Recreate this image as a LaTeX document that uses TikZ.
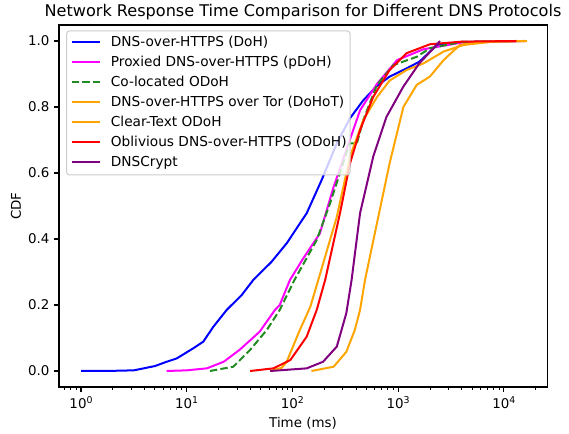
\documentclass[tikz,border=0pt]{standalone}
\usepackage{fontspec}
\setmainfont{DejaVu Sans}
\definecolor{cBlue}{RGB}{0,0,255}
\definecolor{cMag}{RGB}{255,0,255}
\definecolor{cGreen}{RGB}{34,139,34}
\definecolor{cOrange}{RGB}{255,165,0}
\definecolor{cRed}{RGB}{255,0,0}
\definecolor{cPurple}{RGB}{128,0,128}
\newcommand{\tenpow}[1]{10\raisebox{0.62ex}{\fontsize{9.4}{10}\selectfont #1}}
\begin{document}
\begin{tikzpicture}[x=1pt,y=1pt,
  curve/.style={line width=2pt, line join=round, line cap=butt},
  dashcurve/.style={curve, dash pattern=on 7.4pt off 3.2pt},
  axisline/.style={line width=1.07pt, black},
  tickline/.style={line width=1.07pt, black},
  minortick/.style={line width=0.8pt, black},
  lbl/.style={font=\fontsize{13.4}{16}\selectfont, inner sep=0pt},
  leglbl/.style={font=\fontsize{13.7}{16}\selectfont, inner sep=0pt},
  legbox/.style={draw=black!20, fill=white, fill opacity=0.8, rounded corners=2.7pt, line width=1pt}]
\useasboundingbox (0,0) rectangle (569,433);
\begin{scope}[shift={(81,62)}, x=105.7pt, y=330pt]
  % curves
  \draw[curve, cBlue] plot coordinates {(0,0) (0.3,0.0005) (0.5,0.002) (0.7,0.015) (0.81,0.028) (0.905,0.038) (1.063,0.069) (1.157,0.089) (1.252,0.134) (1.378,0.185) (1.52,0.23) (1.63,0.276) (1.8,0.33) (1.946,0.387) (2.135,0.478) (2.277,0.579) (2.42,0.69) (2.545,0.766) (2.67,0.82) (2.8,0.864) (2.92,0.892) (3.08,0.917) (3.2,0.937) (3.27,0.958) (3.365,0.988) (3.6,0.997) (4.12,1.0)};
  \draw[curve, cMag] plot coordinates {(0.81,0) (1.0,0.002) (1.19,0.008) (1.35,0.028) (1.5,0.064) (1.69,0.119) (1.835,0.185) (1.88,0.2) (1.977,0.276) (2.1,0.34) (2.26,0.417) (2.39,0.558) (2.5,0.66) (2.64,0.79) (2.8,0.87) (2.99,0.942) (3.24,0.975) (3.6,0.995) (4.2,1)};
  \draw[dashcurve, cGreen] plot coordinates {(1.22,0) (1.44,0.013) (1.6,0.064) (1.757,0.124) (1.88,0.185) (2.02,0.276) (2.23,0.397) (2.356,0.508) (2.45,0.6) (2.54,0.69) (2.61,0.69) (2.67,0.76) (2.8,0.867) (2.955,0.927) (3.176,0.952) (3.3,0.978) (3.6,0.997) (4.2,1)};
  \draw[curve, cOrange] plot coordinates {(1.79,0) (1.9,0.01) (1.946,0.028) (2.07,0.124) (2.17,0.195) (2.245,0.276) (2.42,0.467) (2.545,0.65) (2.67,0.76) (2.8,0.83) (2.92,0.88) (3.08,0.912) (3.24,0.932) (3.43,0.968) (3.62,0.988) (3.9,0.998) (4.2,1)};
  \draw[curve, cOrange] plot coordinates {(2.18,0) (2.39,0.013) (2.51,0.058) (2.59,0.124) (2.64,0.185) (2.687,0.276) (2.8,0.448) (2.92,0.63) (3.05,0.8) (3.176,0.867) (3.3,0.892) (3.43,0.942) (3.585,0.988) (3.8,0.998) (4.22,1)};
  \draw[curve, cRed] plot coordinates {(1.6,0) (1.82,0.008) (1.98,0.033) (2.135,0.104) (2.23,0.185) (2.31,0.276) (2.45,0.478) (2.545,0.629) (2.64,0.73) (2.765,0.831) (2.92,0.912) (3.08,0.963) (3.3,0.99) (3.6,0.998) (4.12,1)};
  \draw[curve, cPurple] plot coordinates {(1.79,0) (2.135,0.008) (2.29,0.028) (2.42,0.074) (2.51,0.175) (2.56,0.276) (2.64,0.478) (2.765,0.65) (2.89,0.77) (3.05,0.862) (3.2,0.932) (3.35,0.983) (3.396,1.0)};
  % axes frame
  \draw[axisline] (-0.208,-0.0485) rectangle (4.409,1.0485);
  % y ticks
  \foreach \v/\t in {0/0.0,0.2/0.2,0.4/0.4,0.6/0.6,0.8/0.8,1/1.0}{
    \draw[tickline] (-0.208,\v) -- ++(-4.8pt,0);
    \node[lbl, anchor=east] (yt\t) at ([xshift=-9.4pt]-0.208,\v) {\t};
  }
  % x major ticks
  \foreach \d in {0,...,4}{
    \draw[tickline] (\d,-0.0485) -- ++(0,-4.8pt);
    \node[lbl, anchor=base] (xt\d) at ([yshift=-37.3pt]\d,0) {\tenpow{\d}};
  }
  % x minor ticks
  \foreach \d in {-1,...,4}{
    \foreach \k in {2,...,9}{
      \pgfmathsetmacro\lx{\d+log10(\k)}
      \ifdim\lx pt>-0.208pt \ifdim\lx pt<4.409pt
        \draw[minortick] (\lx,-0.0485) -- ++(0,-2.7pt);
      \fi\fi
    }
  }
\end{scope}
% labels
\node[anchor=base, inner sep=0pt, font=\fontsize{16.1}{19}\selectfont] (title) at (303,416.3) {Network Response Time Comparison for Different DNS Protocols};
\node[lbl, anchor=base] (xlab) at (303,6) {Time (ms)};
\node[lbl, rotate=90, anchor=center] (ylab) at (16,227) {CDF};
% legend
\draw[legbox] (66.7,258) rectangle (350,402);
\foreach \i/\s/\c/\t in {0/curve/cBlue/DNS-over-HTTPS (DoH),
                         1/curve/cMag/Proxied DNS-over-HTTPS (pDoH),
                         2/dashcurve/cGreen/Co-located ODoH,
                         3/curve/cOrange/DNS-over-HTTPS over Tor (DoHoT),
                         4/curve/cOrange/Clear-Text ODoH,
                         5/curve/cRed/Oblivious DNS-over-HTTPS (ODoH),
                         6/curve/cPurple/DNSCrypt}{
  \coordinate (la\i) at (71.7,391.3-20*\i);
  \coordinate (lb\i) at (100,391.3-20*\i);
  \draw[\s, \c] (la\i) -- (lb\i);
  \node[leglbl, anchor=base west] (lt\i) at (110.7,386.4-20*\i) {\t};
}
\end{tikzpicture}
\end{document}
